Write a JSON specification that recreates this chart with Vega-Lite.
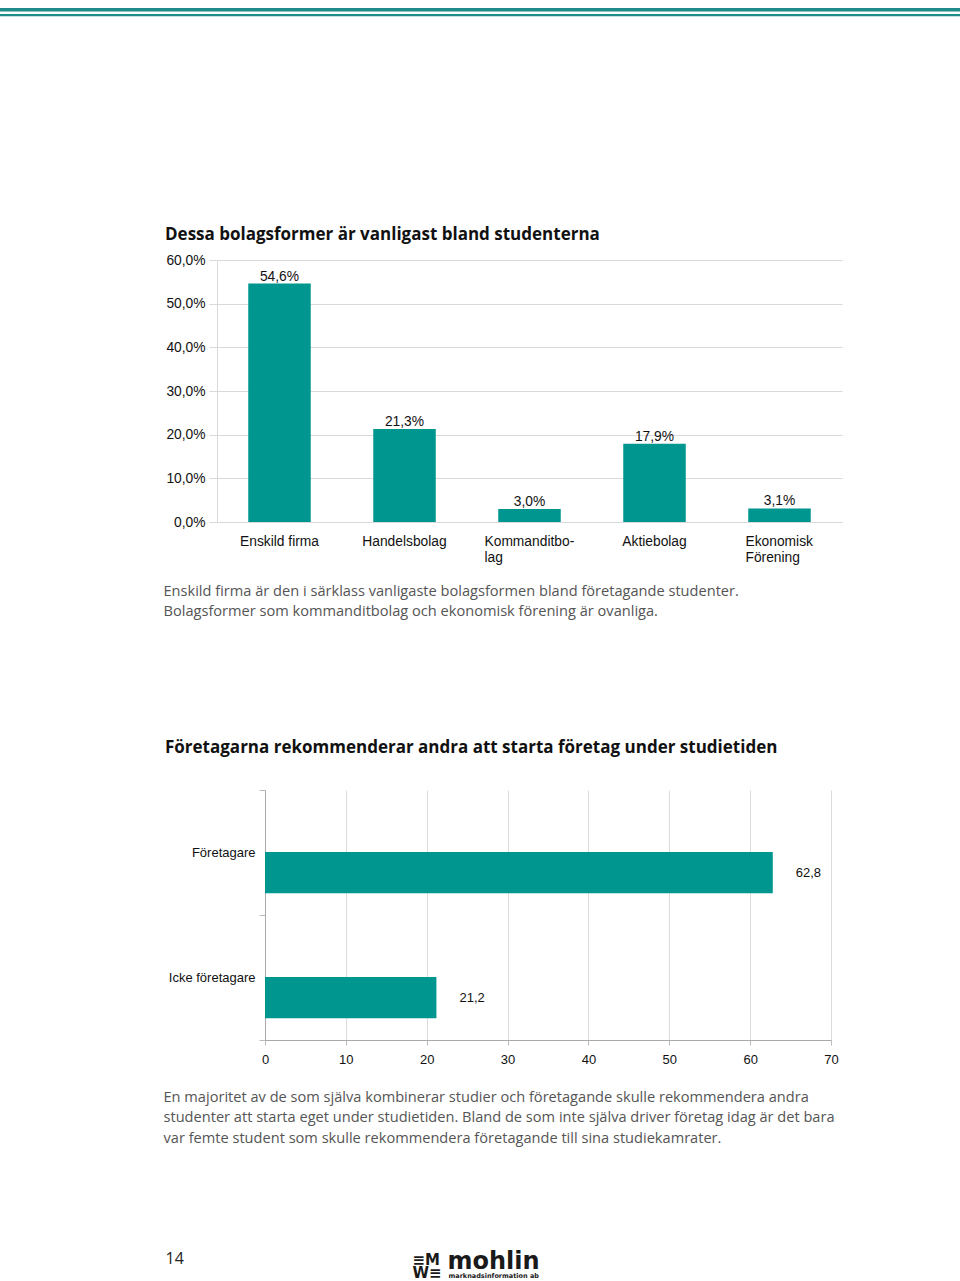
{
  "$schema": "https://vega.github.io/schema/vega-lite/v6.json",
  "background": "white",
  "padding": {"left": 0, "top": 8, "right": 0, "bottom": 0},
  "spacing": 0,
  "bounds": "full",
  "config": {
    "view": {"stroke": null},
    "font": "Liberation Sans",
    "locale": {"number": {"decimal": ",", "thousands": "\u00a0", "grouping": [3], "currency": ["", " kr"]}}
  },
  "vconcat": [
    {
      "spacing": 2,
      "vconcat": [
        {"width": 960, "height": 3.5, "data": {"values": []}, "mark": "point", "view": {"fill": "#208b89", "stroke": null}},
        {"width": 960, "height": 2.2, "data": {"values": []}, "mark": "point", "view": {"fill": "#208b89", "stroke": null}},
        {"width": 10, "height": 207, "data": {"values": []}, "mark": "point"}
      ]
    },
    {
      "spacing": 0,
      "hconcat": [
        {"width": 163, "height": 479, "data": {"values": []}, "mark": "point"},
        {
          "width": 625,
          "height": 262,
          "title": {"text": "Dessa bolagsformer är vanligast bland studenterna", "anchor": "start", "font": "Open Sans", "fontSize": 17, "fontWeight": "bold", "color": "#111111", "offset": -4, "baseline": "alphabetic", "dx": 2},
          "data": {"values": [
            {"form": "Enskild firma", "share": 0.546},
            {"form": "Handelsbolag", "share": 0.213},
            {"form": "Kommanditbolag", "share": 0.030},
            {"form": "Aktiebolag", "share": 0.179},
            {"form": "Ekonomisk Förening", "share": 0.031}
          ]},
          "encoding": {
            "x": {
              "field": "form", "type": "nominal", "sort": null,
              "scale": {"paddingInner": 0.5, "paddingOuter": 0.25},
              "axis": {
                "title": ["Enskild firma är den i särklass vanligaste bolagsformen bland företagande studenter.", "Bolagsformer som kommanditbolag och ekonomisk förening är ovanliga."],
                "titleX": -54, "titleY": 73, "titleAlign": "left", "titleAnchor": "start", "titleBaseline": "alphabetic",
                "titleFont": "Open Sans", "titleFontSize": 14.6, "titleFontWeight": "normal", "titleColor": "#555555", "titleLineHeight": 20.5,
                "labelAngle": 0,
                "labelExpr": "datum.value === 'Kommanditbolag' ? ['Kommanditbo-', 'lag'] : datum.value === 'Ekonomisk Förening' ? ['Ekonomisk', 'Förening'] : datum.label",
                "labelAlign": {"condition": {"test": "datum.value === 'Kommanditbolag' || datum.value === 'Ekonomisk Förening'", "value": "left"}, "value": "center"},
                "labelOffset": {"condition": [{"test": "datum.value === 'Kommanditbolag'", "value": -45}, {"test": "datum.value === 'Ekonomisk Förening'", "value": -34}], "value": 0},
                "labelFontSize": 13.8, "labelColor": "#111111", "labelPadding": 12, "labelLineHeight": 16, "labelBaseline": "top",
                "ticks": false, "domainColor": "#d9d9d9"
              }
            },
            "y": {
              "field": "share", "type": "quantitative",
              "scale": {"domain": [0, 0.6], "nice": false},
              "axis": {
                "title": null, "values": [0, 0.1, 0.2, 0.3, 0.4, 0.5, 0.6], "format": ".1%",
                "grid": true, "gridColor": "#d9d9d9", "tickColor": "#d9d9d9", "tickSize": 8, "domainColor": "#d9d9d9",
                "labelPadding": 4, "labelFontSize": 13.8, "labelColor": "#111111"
              }
            }
          },
          "layer": [
            {"mark": {"type": "bar", "color": "#009690"}},
            {"mark": {"type": "text", "baseline": "alphabetic", "dy": -3, "fontSize": 13.8, "color": "#111111"}, "encoding": {"text": {"field": "share", "format": ".1%"}}}
          ]
        }
      ]
    },
    {
      "spacing": 0,
      "hconcat": [
        {"width": 163, "height": 457, "data": {"values": []}, "mark": "point"},
        {
          "width": 566,
          "height": 250,
          "title": {"text": "Företagarna rekommenderar andra att starta företag under studietiden", "anchor": "start", "font": "Open Sans", "fontSize": 17, "fontWeight": "bold", "color": "#111111", "offset": 14, "baseline": "alphabetic", "dx": 2},
          "data": {"values": [
            {"group": "Företagare", "pct": 62.8},
            {"group": "Icke företagare", "pct": 21.2}
          ]},
          "encoding": {
            "y": {
              "field": "group", "type": "nominal", "sort": null,
              "scale": {"paddingInner": 0, "paddingOuter": 0},
              "axis": {
                "title": null, "tickBand": "extent", "tickSize": 6, "tickColor": "#bbbbbb", "domainColor": "#aaaaaa",
                "labelPadding": 4, "labelFontSize": 13, "labelColor": "#111111", "grid": false
              }
            },
            "x": {
              "field": "pct", "type": "quantitative",
              "scale": {"domain": [0, 70], "nice": false},
              "axis": {
                "values": [0, 10, 20, 30, 40, 50, 60, 70], "format": "d", "labelFlush": false,
                "grid": true, "gridColor": "#dcdcdc", "tickSize": 5, "tickColor": "#bbbbbb", "domainColor": "#aaaaaa",
                "labelPadding": 8, "labelFontSize": 13, "labelColor": "#111111",
                "title": ["En majoritet av de som själva kombinerar studier och företagande skulle rekommendera andra", "studenter att starta eget under studietiden. Bland de som inte själva driver företag idag är det bara", "var femte student som skulle rekommendera företagande till sina studiekamrater."],
                "titleX": -102, "titleY": 61, "titleAlign": "left", "titleAnchor": "start", "titleBaseline": "alphabetic",
                "titleFont": "Open Sans", "titleFontSize": 14.6, "titleFontWeight": "normal", "titleColor": "#555555", "titleLineHeight": 20.5
              }
            }
          },
          "layer": [
            {"mark": {"type": "bar", "color": "#009690", "height": {"band": 0.33}, "yOffset": 20}},
            {"mark": {"type": "text", "align": "left", "baseline": "middle", "dx": 23, "yOffset": 20, "fontSize": 13, "color": "#111111"}, "encoding": {"text": {"field": "pct", "format": ".1f"}}}
          ]
        }
      ]
    },
    {
      "spacing": 0,
      "hconcat": [
        {"width": 165, "height": 1, "data": {"values": []}, "mark": "point"},
        {"width": 247, "height": 1, "data": {"values": []}, "mark": "point",
         "encoding": {"x": {"field": "v", "type": "quantitative", "axis": {"title": "14", "labels": false, "ticks": false, "domain": false, "grid": false, "titleX": 0, "titleY": 15, "titleAlign": "left", "titleAnchor": "start", "titleBaseline": "alphabetic", "titleFont": "Open Sans", "titleFontSize": 16, "titleFontWeight": "normal", "titleColor": "#222222"}}}},
        {"width": 35, "height": 1, "data": {"values": []}, "mark": "point",
         "encoding": {"x": {"field": "v", "type": "quantitative", "axis": {"title": ["≡M", "W≡"], "labels": false, "ticks": false, "domain": false, "grid": false, "titleX": 0, "titleY": 16, "titleAlign": "left", "titleAnchor": "start", "titleBaseline": "alphabetic", "titleFont": "DejaVu Sans", "titleFontSize": 15, "titleFontWeight": "bold", "titleColor": "#1a1a1a", "titleLineHeight": 13}}}},
        {"width": 100, "height": 1, "data": {"values": []}, "mark": "point",
         "encoding": {
           "x": {"field": "v", "type": "quantitative", "axis": {"title": "mohlin", "labels": false, "ticks": false, "domain": false, "grid": false, "titleX": 0, "titleY": 20, "titleAlign": "left", "titleAnchor": "start", "titleBaseline": "alphabetic", "titleFont": "DejaVu Sans", "titleFontSize": 24, "titleFontWeight": "bold", "titleColor": "#1a1a1a"}},
           "y": {"field": "w", "type": "quantitative", "axis": {"title": "marknadsinformation ab", "labels": false, "ticks": false, "domain": false, "grid": false, "titleAngle": 0, "titleX": 1, "titleY": 30, "titleAlign": "left", "titleAnchor": "start", "titleBaseline": "alphabetic", "titleFont": "DejaVu Sans", "titleFontSize": 6.5, "titleFontWeight": "bold", "titleColor": "#1a1a1a"}}
         }}
      ]
    }
  ]
}
